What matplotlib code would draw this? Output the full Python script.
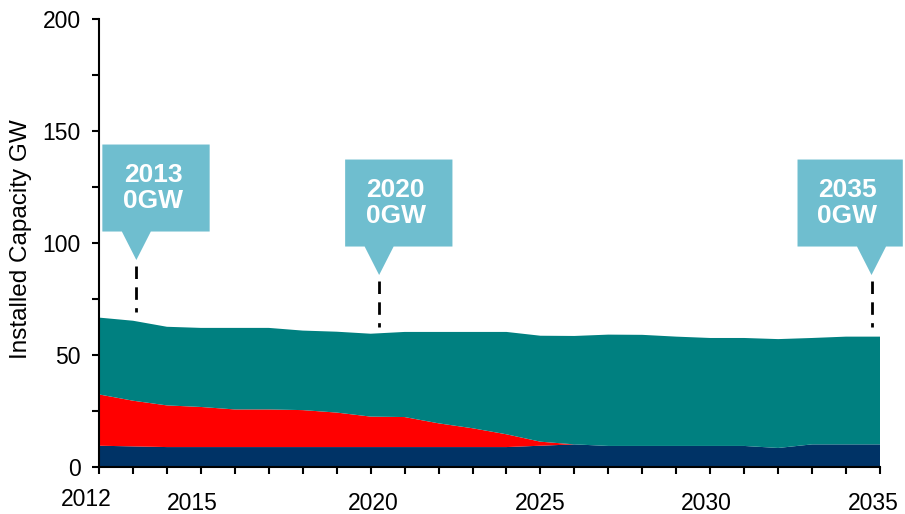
import matplotlib
matplotlib.use("Agg")
import matplotlib.pyplot as plt
from matplotlib.patches import Polygon
from matplotlib.lines import Line2D
from matplotlib.transforms import ScaledTranslation
from matplotlib.ticker import FixedLocator, MultipleLocator

plt.rcParams["font.family"] = ["Liberation Sans", "DejaVu Sans"]

# Yearly installed capacity (GW), stacked bottom to top
years = list(range(2012, 2036))
layer_low = [9.5, 9.2, 8.9, 8.9, 8.9, 8.9, 8.9, 8.9, 8.9, 8.9, 8.9, 8.9,
             8.9, 9.5, 10.1, 9.4, 9.4, 9.4, 9.4, 9.4, 8.5, 10.1, 10.1, 10.1]
layer_mid = [22.9, 20.4, 18.6, 17.9, 16.8, 16.8, 16.5, 15.4, 13.6, 13.4, 10.6, 8.4,
             5.7, 1.8, 0.0, 0.0, 0.0, 0.0, 0.0, 0.0, 0.0, 0.0, 0.0, 0.0]
layer_top = [34.3, 35.7, 35.1, 35.3, 36.4, 36.4, 35.5, 36.1, 37.0, 38.0, 40.8, 43.0,
             45.7, 47.3, 48.4, 49.7, 49.6, 48.8, 48.2, 48.2, 48.6, 47.5, 48.1, 48.1]
layer_colors = ["#003366", "#FF0000", "#008080"]

x_tick_labels = [2012, 2015, 2020, 2025, 2030, 2035]
y_tick_values = [0, 50, 100, 150, 200]

# Callout annotations
callout_years = [2013, 2020, 2035]
callout_gw = [0, 0, 0]
callout_tip_x = [2013.1, 2020.25, 2034.75]
callout_tip_y = [92.4, 85.7, 85.7]
callout_side = [1, 1, -1]
callout_color = "#6FBECF"

fig = plt.figure(figsize=(9.05, 5.14), dpi=100)
ax = fig.add_axes([99 / 905, 47 / 514, 781 / 905, 448 / 514])

ax.stackplot(years, layer_low, layer_mid, layer_top, colors=layer_colors,
             linewidth=0, edgecolor="none")

ax.set_xlim(2012, 2035)
ax.set_ylim(0, 200)

for side in ("top", "right"):
    ax.spines[side].set_visible(False)
for side in ("left", "bottom"):
    ax.spines[side].set_linewidth(1.5)
    ax.spines[side].set_zorder(5)

ax.xaxis.set_major_locator(FixedLocator(years))
ax.set_xticklabels([])
ax.yaxis.set_major_locator(FixedLocator(y_tick_values))
ax.yaxis.set_minor_locator(MultipleLocator(25))
ax.tick_params(axis="both", which="both", direction="out", length=5, width=1.5)
ax.tick_params(axis="y", which="major", labelsize=16.5, pad=8)

# Year labels below the axis
label_shift_px = {2012: (-12.5, 4), 2015: (-8.5, 0), 2020: (3, 0),
                  2025: (0, 0), 2030: (-3.5, 0), 2035: (-7, 0)}
for yr in x_tick_labels:
    dx, dy = label_shift_px[yr]
    tr = ax.get_xaxis_transform() + ScaledTranslation(dx / 100, (dy - 36) / 100,
                                                      fig.dpi_scale_trans)
    ax.text(yr, 0, str(yr), transform=tr, ha="center", va="center",
            fontsize=16.5, clip_on=False)

ax.set_ylabel("Installed Capacity GW", fontsize=17.5)
ax.yaxis.set_label_coords(-0.086, 0.509)

# Callouts: box with pointer and dashed leader
for yr, gw, tx, ty, sd in zip(callout_years, callout_gw, callout_tip_x,
                              callout_tip_y, callout_side):
    tr = fig.dpi_scale_trans + ScaledTranslation(tx, ty, ax.transData)
    if sd > 0:
        left, right = -0.34, 0.733
    else:
        left, right = -0.74, 0.313
    bottom, top = 0.285, 1.155
    pts = [(left, bottom), (-0.145, bottom), (0, 0), (0.145, bottom),
           (right, bottom), (right, top), (left, top)]
    ax.add_patch(Polygon(pts, closed=True, transform=tr, facecolor=callout_color,
                         edgecolor="none", clip_on=False, zorder=6))
    ax.add_line(Line2D([0, 0], [-0.06, -0.515], transform=tr, color="black",
                       linewidth=2, dashes=(4.5, 3), clip_on=False, zorder=6))
    ax.text((left + right) / 2 - 0.03, 0.72, f"{yr}\n{gw}GW", transform=tr,
            ha="center", va="center", fontsize=19, fontweight="bold",
            color="white", linespacing=1.13, clip_on=False, zorder=7)

fig.savefig("out.png", dpi=100)
